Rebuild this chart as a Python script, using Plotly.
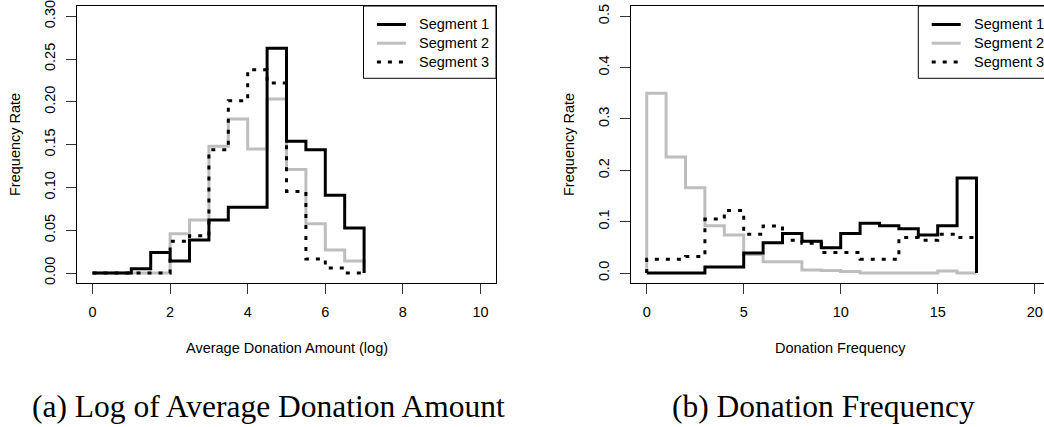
import plotly.graph_objects as go

# ---- data: frequency rate per bin, three donor segments ----
# (a) log of average donation amount, bins of width 0.5 starting at these edges
amount_bins = [0.0, 0.5, 1.0, 1.5, 2.0, 2.5, 3.0, 3.5, 4.0, 4.5, 5.0, 5.5, 6.0, 6.5]
amount_width = 0.5
amount_seg1 = [0, 0, 0.005, 0.024, 0.014, 0.0386, 0.062, 0.077, 0.077, 0.2626, 0.154, 0.144, 0.091, 0.0526]
amount_seg2 = [0, 0, 0, 0, 0.046, 0.062, 0.148, 0.18, 0.145, 0.2034, 0.121, 0.0577, 0.027, 0.014]
amount_seg3 = [0, 0, 0, 0, 0.037, 0.0436, 0.144, 0.2014, 0.2376, 0.222, 0.0954, 0.0164, 0.0058, 0]

# (b) donation frequency, bins of width 1 starting at these edges
freq_bins = [0, 1, 2, 3, 4, 5, 6, 7, 8, 9, 10, 11, 12, 13, 14, 15, 16]
freq_width = 1
freq_seg1 = [0, 0, 0, 0.0116, 0.0116, 0.039, 0.059, 0.077, 0.062, 0.049, 0.077, 0.097, 0.092, 0.086, 0.074, 0.092, 0.185]
freq_seg2 = [0.35, 0.226, 0.166, 0.092, 0.074, 0.036, 0.022, 0.022, 0.006, 0.005, 0.003, 0, 0, 0, 0, 0.004, 0]
freq_seg3 = [0.027, 0.027, 0.032, 0.105, 0.122, 0.0755, 0.0916, 0.064, 0.058, 0.04, 0.04, 0.027, 0.027, 0.069, 0.064, 0.0755, 0.069]

segment_names = ["Segment 1", "Segment 2", "Segment 3"]
amount_ticks = [0, 2, 4, 6, 8, 10]
freq_ticks = [0, 5, 10, 15, 20]
amount_yticks = [0.0, 0.05, 0.10, 0.15, 0.20, 0.25, 0.30]
freq_yticks = [0.0, 0.1, 0.2, 0.3, 0.4, 0.5]

# ---- page geometry (pixels) ----
W, H = 1044, 427
SANS = "Liberation Sans, Arial, sans-serif"
SERIF = "Liberation Serif, Times New Roman, serif"
FS = 14.5
GRAY = "#BEBEBE"
LW = 3


def fx(px):
    return px / W


def fy(py):
    return 1 - py / H


def steps(bins, width, vals):
    """Outline of a histogram drawn as an 'hv' step line, closed to zero at both ends."""
    xs = [bins[0]] + list(bins) + [bins[-1] + width]
    ys = [0] + list(vals) + [0]
    return xs, ys


styles = {
    "Segment 1": dict(color="black", width=LW, dash="solid"),
    "Segment 2": dict(color=GRAY, width=LW, dash="solid"),
    "Segment 3": dict(color="black", width=LW, dash="4px,7px"),
}

fig = go.Figure()

panels = [
    ("x", "y", amount_bins, amount_width, [amount_seg1, amount_seg2, amount_seg3]),
    ("x2", "y2", freq_bins, freq_width, [freq_seg1, freq_seg2, freq_seg3]),
]
# grey series first so the black ones sit on top of it
draw_order = [1, 0, 2]
for xa, ya, bins, width, series in panels:
    for i in draw_order:
        xs, ys = steps(bins, width, series[i])
        fig.add_trace(go.Scatter(
            x=xs, y=ys, mode="lines", line_shape="hv",
            line=styles[segment_names[i]], name=segment_names[i],
            xaxis=xa, yaxis=ya, showlegend=False, hoverinfo="skip",
        ))

# panel boxes in pixels: left, top, right, bottom
left_box = (77, 6, 496, 283.3)
right_box = (631.2, 6, 1044, 283.3)

axis_common = dict(
    showgrid=False, zeroline=False, showline=True, linecolor="black", linewidth=1,
    ticks="outside", ticklen=10, tickwidth=1, tickcolor="#333",
    tickfont=dict(family=SANS, size=FS, color="black"),
    ticklabeloverflow="allow",
)
x_common = dict(ticklabelstandoff=5, **axis_common)
y_common = dict(ticklabelstandoff=5, tickangle=-90, **axis_common)

fig.update_layout(
    width=W, height=H,
    margin=dict(l=0, r=0, t=0, b=0, autoexpand=False),
    paper_bgcolor="white", plot_bgcolor="white",
    showlegend=False,
    xaxis=dict(domain=[fx(left_box[0]), fx(left_box[2])], range=[-0.4, 10.4],
               tickvals=amount_ticks, mirror=True, anchor="y", **x_common),
    yaxis=dict(domain=[fy(left_box[3]), fy(left_box[1])], range=[-0.012, 0.312],
               tickvals=amount_yticks, tickformat=".2f", mirror=True,
               anchor="x", **y_common),
    xaxis2=dict(domain=[fx(right_box[0]), 1.0], range=[-0.8, 20.48],
                tickvals=freq_ticks, mirror=True, anchor="y2", **x_common),
    yaxis2=dict(domain=[fy(right_box[3]), fy(right_box[1])], range=[-0.02, 0.52],
                tickvals=freq_yticks, tickformat=".1f", mirror=False,
                anchor="x2", **y_common),
)

annotations = []
shapes = []

# axis titles
for cx, text in [((left_box[0] + left_box[2]) / 2, "Average Donation Amount (log)"),
                 (840.7, "Donation Frequency")]:
    annotations.append(dict(x=fx(cx), y=fy(348), xref="paper", yref="paper",
                            text=text, showarrow=False, xanchor="center", yanchor="middle",
                            font=dict(family=SANS, size=FS, color="black")))
for cx in [15, 569]:
    annotations.append(dict(x=fx(cx), y=fy(145), xref="paper", yref="paper",
                            text="Frequency Rate", textangle=-90, showarrow=False,
                            xanchor="center", yanchor="middle",
                            font=dict(family=SANS, size=FS, color="black")))

# sub-figure captions
for cx, text in [(268.5, "(a) Log of Average Donation Amount"),
                 (823.5, "(b) Donation Frequency")]:
    annotations.append(dict(x=fx(cx), y=fy(406), xref="paper", yref="paper",
                            text=text, showarrow=False, xanchor="center", yanchor="middle",
                            font=dict(family=SERIF, size=31.5, color="black")))

# legends, one per panel, anchored to the top-right corner of each box
rows = [24.5, 43.2, 61.9]
for box_left, box_right in [(363.5, 496), (918.3, 1060)]:
    shapes.append(dict(type="rect", xref="paper", yref="paper",
                       x0=fx(box_left), x1=fx(box_right), y0=fy(78.3), y1=fy(6),
                       line=dict(color="black", width=1), fillcolor="white", layer="above"))
    for name, ry in zip(segment_names, rows):
        st = styles[name]
        shapes.append(dict(type="line", xref="paper", yref="paper",
                           x0=fx(box_left + 13.4), x1=fx(box_left + 42.4), y0=fy(ry), y1=fy(ry),
                           line=dict(color=st["color"], width=st["width"], dash=st["dash"]),
                           layer="above"))
        annotations.append(dict(x=fx(box_left + 53.5), y=fy(ry), xref="paper", yref="paper",
                                text=name, showarrow=False, xanchor="left", yanchor="middle",
                                font=dict(family=SANS, size=FS, color="black")))

fig.update_layout(annotations=annotations, shapes=shapes)

fig.write_html("out.html")
